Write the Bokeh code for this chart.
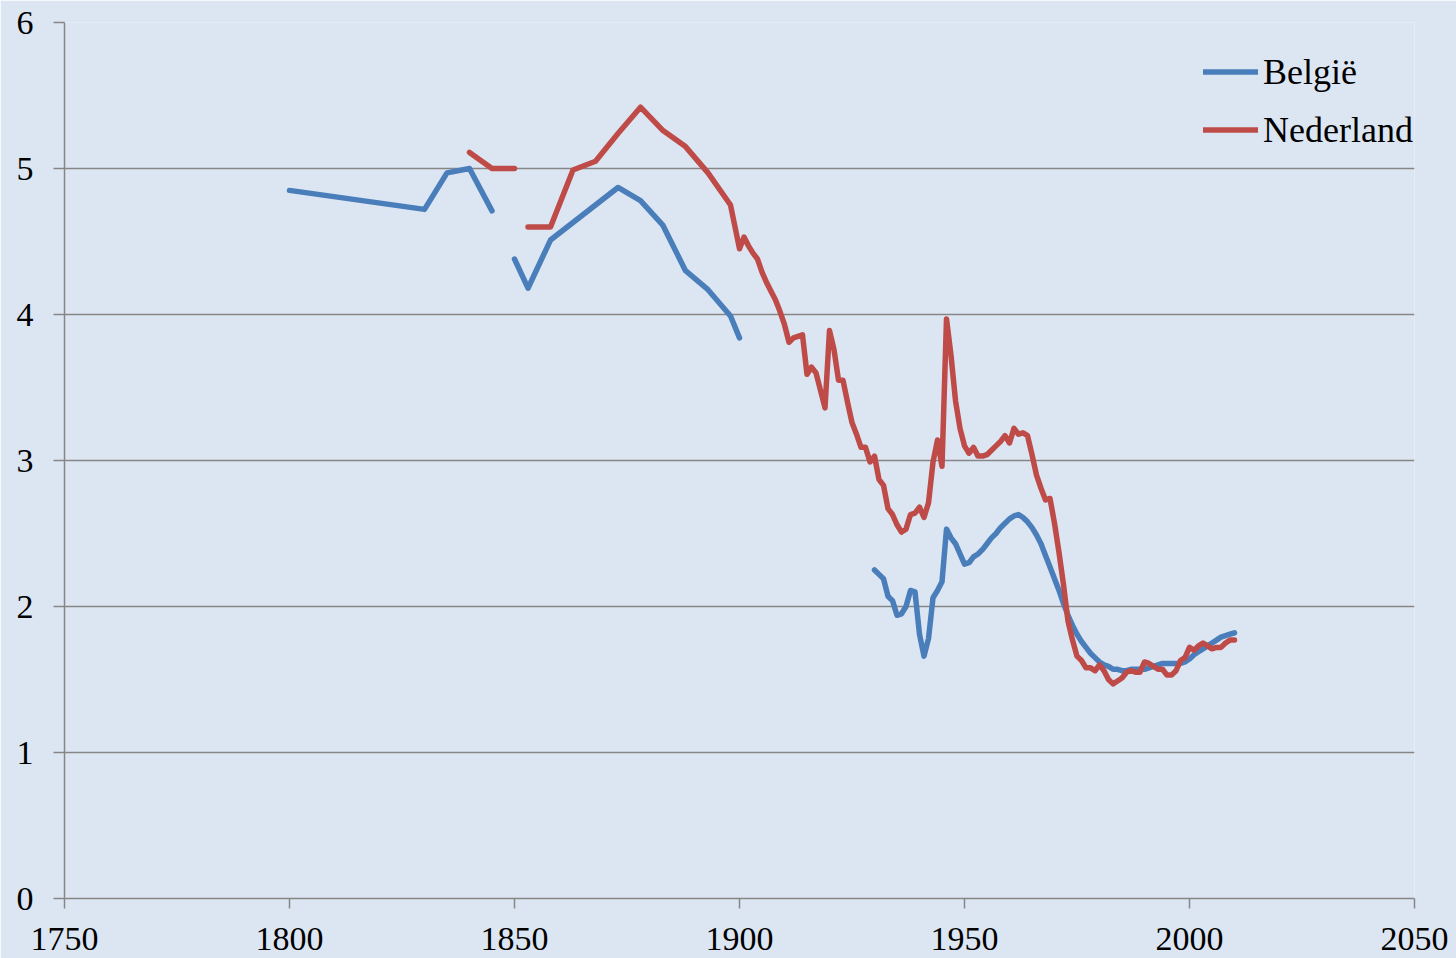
import numpy as np
from bokeh.plotting import figure
from bokeh.models import Range1d, FixedTicker, Legend, LegendItem
from bokeh.embed import file_html
from bokeh.resources import INLINE

nan = float("nan")

# België
be_years = [1800, 1830, 1835, 1840, 1845, 1847,
            1850, 1853, 1858, 1863, 1868, 1873, 1878, 1883, 1888, 1893, 1898, 1900, 1915,
            1930, 1931, 1932, 1933, 1934, 1935, 1936, 1937, 1938, 1939,
            1940, 1941, 1942, 1943, 1944, 1945, 1946, 1947, 1948, 1949,
            1950, 1951, 1952, 1953, 1954, 1955, 1956, 1957, 1958, 1959,
            1960, 1961, 1962, 1963, 1964, 1965, 1966, 1967, 1968, 1969,
            1970, 1971, 1972, 1973, 1974, 1975, 1976, 1977, 1978, 1979,
            1980, 1981, 1982, 1983, 1984, 1985, 1986, 1987, 1988, 1989,
            1990, 1991, 1992, 1993, 1994, 1995, 1996, 1997, 1998, 1999,
            2000, 2001, 2002, 2003, 2004, 2005, 2006, 2007, 2008, 2009, 2010]
be_values = [4.85, 4.72, 4.97, 5.00, 4.71, nan,
             4.38, 4.18, 4.51, 4.63, 4.75, 4.87, 4.78, 4.61, 4.30, 4.17, 3.99, 3.84, nan,
             2.25, 2.22, 2.19, 2.07, 2.04, 1.94, 1.95, 2.00, 2.11, 2.10,
             1.81, 1.66, 1.78, 2.06, 2.11, 2.17, 2.53, 2.47, 2.43, 2.36,
             2.29, 2.30, 2.34, 2.36, 2.39, 2.43, 2.47, 2.50, 2.54, 2.57,
             2.60, 2.62, 2.63, 2.61, 2.58, 2.54, 2.49, 2.43, 2.35, 2.27,
             2.19, 2.11, 2.02, 1.94, 1.87, 1.81, 1.76, 1.72, 1.68, 1.65,
             1.62, 1.60, 1.59, 1.57, 1.57, 1.56, 1.56, 1.57, 1.57, 1.57,
             1.57, 1.58, 1.59, 1.60, 1.61, 1.61, 1.61, 1.61, 1.61, 1.62,
             1.64, 1.67, 1.69, 1.71, 1.73, 1.75, 1.77, 1.79, 1.80, 1.81, 1.82]

# Nederland
nl_years = [1840, 1845, 1850, 1851,
            1853, 1858, 1863, 1868, 1873, 1878, 1883, 1888, 1893, 1898,
            1900, 1901, 1902, 1903, 1904, 1905, 1906, 1907, 1908, 1909,
            1910, 1911, 1912, 1913, 1914, 1915, 1916, 1917, 1918, 1919,
            1920, 1921, 1922, 1923, 1924, 1925, 1926, 1927, 1928, 1929,
            1930, 1931, 1932, 1933, 1934, 1935, 1936, 1937, 1938, 1939,
            1940, 1941, 1942, 1943, 1944, 1945, 1946, 1947, 1948, 1949,
            1950, 1951, 1952, 1953, 1954, 1955, 1956, 1957, 1958, 1959,
            1960, 1961, 1962, 1963, 1964, 1965, 1966, 1967, 1968, 1969,
            1970, 1971, 1972, 1973, 1974, 1975, 1976, 1977, 1978, 1979,
            1980, 1981, 1982, 1983, 1984, 1985, 1986, 1987, 1988, 1989,
            1990, 1991, 1992, 1993, 1994, 1995, 1996, 1997, 1998, 1999,
            2000, 2001, 2002, 2003, 2004, 2005, 2006, 2007, 2008, 2009, 2010]
nl_values = [5.11, 5.00, 5.00, nan,
             4.60, 4.60, 4.99, 5.05, 5.24, 5.42, 5.26, 5.15, 4.97, 4.75,
             4.45, 4.53, 4.47, 4.42, 4.38, 4.29, 4.22, 4.16, 4.10, 4.02,
             3.93, 3.81, 3.84, 3.85, 3.86, 3.59, 3.64, 3.60, 3.48, 3.36,
             3.89, 3.76, 3.55, 3.55, 3.40, 3.26, 3.18, 3.09, 3.09, 2.99,
             3.03, 2.87, 2.83, 2.67, 2.63, 2.56, 2.51, 2.53, 2.63, 2.64,
             2.68, 2.61, 2.71, 2.99, 3.14, 2.96, 3.97, 3.72, 3.41, 3.22,
             3.10, 3.05, 3.09, 3.03, 3.03, 3.04, 3.07, 3.10, 3.13, 3.17,
             3.12, 3.22, 3.18, 3.19, 3.17, 3.04, 2.90, 2.81, 2.73, 2.74,
             2.57, 2.37, 2.15, 1.90, 1.77, 1.66, 1.63, 1.58, 1.58, 1.56,
             1.60, 1.56, 1.50, 1.47, 1.49, 1.51, 1.55, 1.56, 1.55, 1.55,
             1.62, 1.61, 1.59, 1.57, 1.57, 1.53, 1.53, 1.56, 1.63, 1.65,
             1.72, 1.70, 1.73, 1.75, 1.73, 1.71, 1.72, 1.72, 1.75, 1.77, 1.77]

x_ticks = [1750, 1800, 1850, 1900, 1950, 2000, 2050]
y_ticks = [0, 1, 2, 3, 4, 5, 6]
series_names = ["België", "Nederland"]

BG = "#DCE6F2"
GRAY = "#868686"
BLUE = "#4A7EBB"
RED = "#BE4B48"
FONT = "Liberation Serif"

p = figure(width=1456, height=958, output_backend="svg", toolbar_location=None,
           x_range=Range1d(1750, 2050), y_range=Range1d(0, 6),
           min_border_left=64, min_border_right=42, min_border_top=22, min_border_bottom=60)
p.background_fill_color = BG
p.border_fill_color = BG
p.outline_line_color = None

r_be = p.line(be_years, be_values, line_color=BLUE, line_width=5.5,
              line_join="round", line_cap="round")
r_nl = p.line(nl_years, nl_values, line_color=RED, line_width=5.5,
              line_join="round", line_cap="round")

p.xgrid.grid_line_color = None
p.ygrid.grid_line_color = GRAY
p.ygrid.grid_line_width = 1.5
p.ygrid.ticker = FixedTicker(ticks=y_ticks)

for ax in (p.xaxis[0], p.yaxis[0]):
    ax.axis_line_color = GRAY
    ax.axis_line_width = 1.5
    ax.major_tick_line_color = GRAY
    ax.major_tick_line_width = 1.5
    ax.major_tick_in = 0
    ax.minor_tick_line_color = None
    ax.major_label_text_font = FONT
    ax.major_label_text_font_size = "34px"
    ax.major_label_text_color = "#000000"

p.xaxis.ticker = FixedTicker(ticks=x_ticks)
p.yaxis.ticker = FixedTicker(ticks=y_ticks)
p.xaxis.major_tick_out = 10
p.yaxis.major_tick_out = 11
p.xaxis.major_label_standoff = 19
p.yaxis.major_label_standoff = 20

legend = Legend(items=[LegendItem(label=series_names[0], renderers=[r_be]),
                       LegendItem(label=series_names[1], renderers=[r_nl])],
                location=(1139, 746), padding=0, margin=0, spacing=13,
                glyph_width=55, glyph_height=45, label_height=45, label_standoff=5,
                label_text_font=FONT, label_text_font_size="36px",
                label_text_color="#000000",
                background_fill_alpha=0, border_line_alpha=0)
p.add_layout(legend)

open("out.html", "w").write(file_html(p, INLINE))
